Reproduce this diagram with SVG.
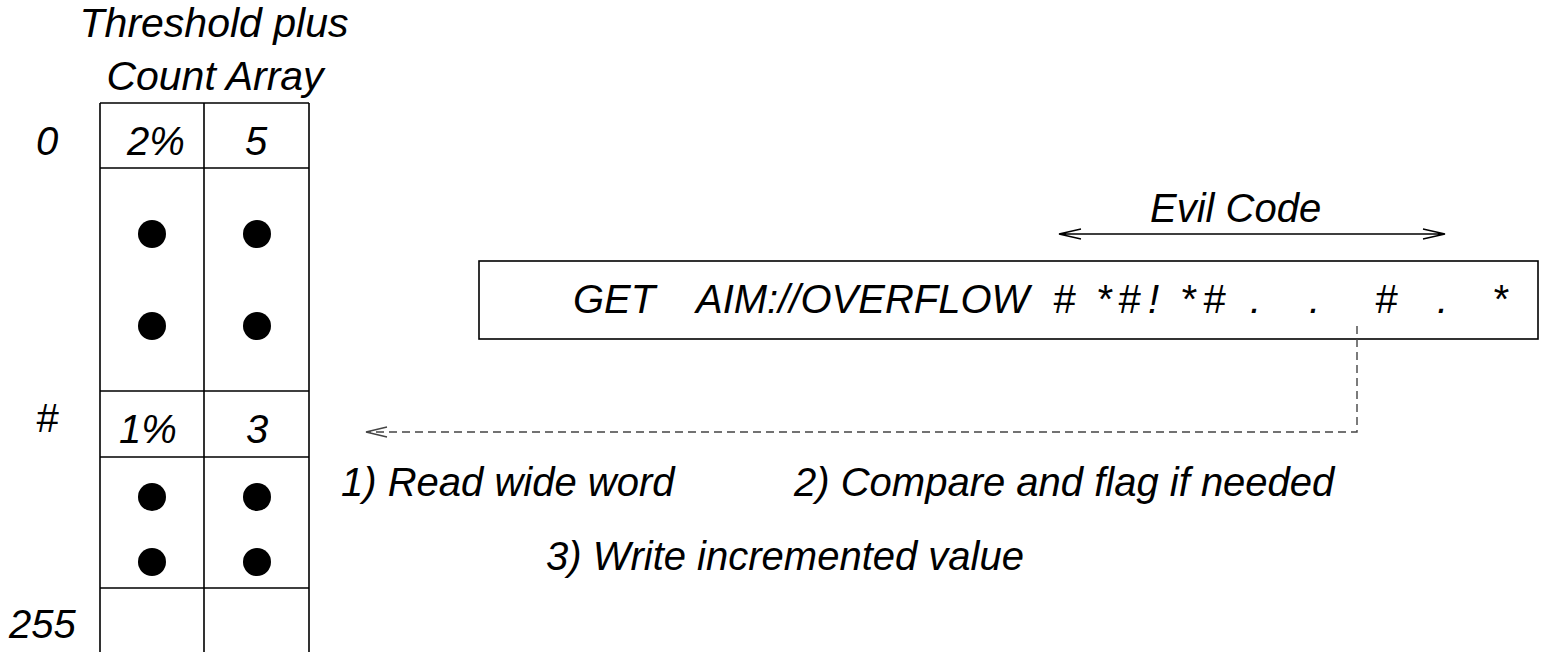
<svg xmlns="http://www.w3.org/2000/svg" width="1545" height="652" viewBox="0 0 1545 652">
<style>
text{font-family:"Liberation Sans",Arial,sans-serif;font-style:italic;font-size:40px;fill:#000}
.big{font-size:41px}
.ln{stroke:#000;stroke-width:1.6;fill:none}
.thin{stroke:#000;stroke-width:1.3;fill:none}
.dash{stroke:#444;stroke-width:1.4;fill:none;stroke-dasharray:8 5}
.dot{fill:#000}
</style>
<rect width="1545" height="652" fill="#fff"/>
<g id="array-title">
<text class="big" x="214" y="37" text-anchor="middle">Threshold plus</text>
<text class="big" x="215" y="90" text-anchor="middle">Count Array</text>
</g>
<g id="count-array">
<path class="ln" d="M100,103 H309 M100,103 V653 M309,103 V653 M204,103 V653 M100,168 H309 M100,391 H309 M100,457 H309 M100,588 H309"/>
<text x="36" y="155">0</text>
<text x="127" y="155">2%</text>
<text x="245" y="155">5</text>
<circle class="dot" cx="152" cy="234" r="14"/>
<circle class="dot" cx="257" cy="234" r="14"/>
<circle class="dot" cx="152" cy="326" r="14"/>
<circle class="dot" cx="257" cy="326" r="14"/>
<text x="36" y="432">#</text>
<text x="119" y="443">1%</text>
<text x="246" y="443">3</text>
<circle class="dot" cx="152" cy="497" r="14"/>
<circle class="dot" cx="257" cy="497" r="14"/>
<circle class="dot" cx="152" cy="562" r="14"/>
<circle class="dot" cx="257" cy="562" r="14"/>
<text x="9" y="638">255</text>
</g>
<g id="request">
<rect class="ln" x="479" y="261" width="1059" height="78"/>
<text y="313"><tspan x="573">GET</tspan><tspan x="696">AIM://OVERFLOW</tspan><tspan x="1053">#</tspan><tspan x="1096">*</tspan><tspan x="1118">#</tspan><tspan x="1148">!</tspan><tspan x="1180">*</tspan><tspan x="1203">#</tspan><tspan x="1250">.</tspan><tspan x="1309">.</tspan><tspan x="1375">#</tspan><tspan x="1437">.</tspan><tspan x="1492">*</tspan></text>
</g>
<g id="evil-code">
<text x="1150" y="222">Evil Code</text>
</g>
<g id="steps">
<text x="341" y="496">1) Read wide word</text>
<text x="794" y="496">2) Compare and flag if needed</text>
<text x="546" y="570">3) Write incremented value</text>
</g>
<g id="connectors">
<path class="thin" d="M1059,234 H1445 M1081,229 L1059,234 L1081,239 M1423,229 L1445,234 L1423,239"/>
<path class="dash" d="M1357,326 V432 H367"/>
<path class="thin" style="stroke:#444" d="M387,427 L366,432 L387,437"/>
</g>
</svg>
